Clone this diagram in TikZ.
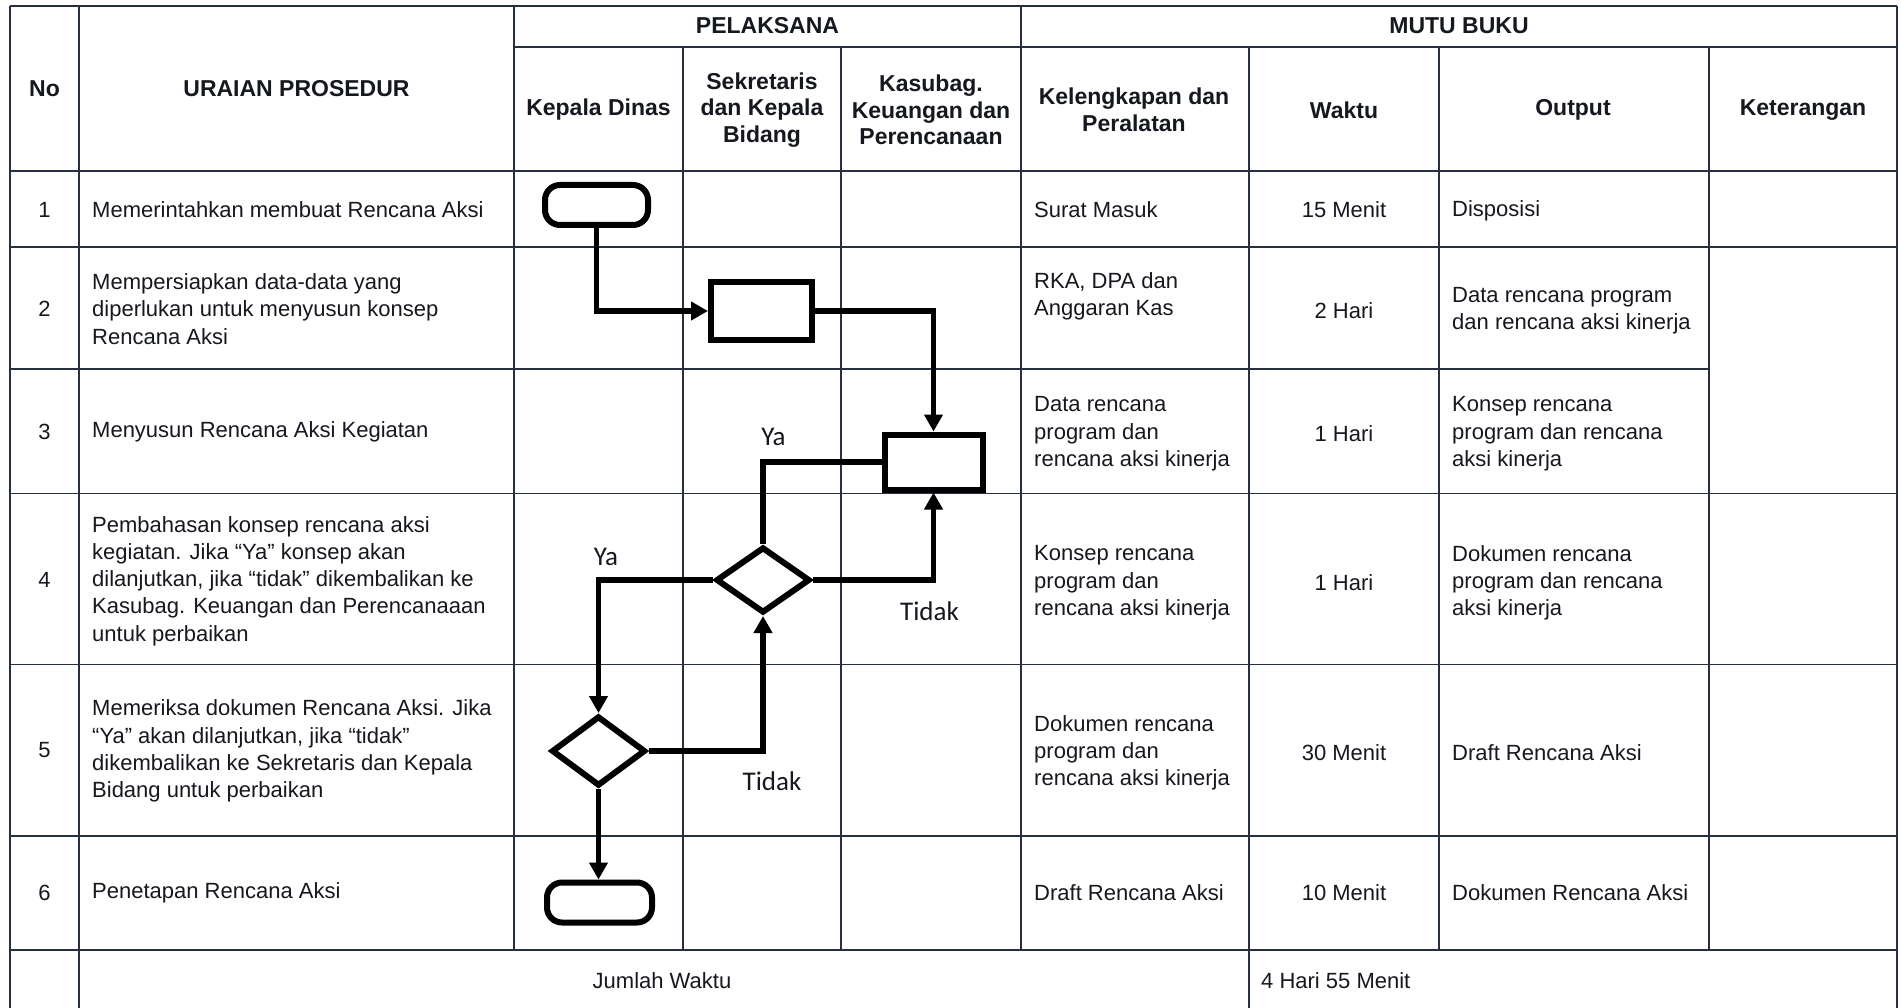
\documentclass[tikz,border=0pt]{standalone}
\usepackage{fontspec}
\setmainfont{Liberation Sans}
\newfontfamily\flowfont{Carlito}
\usetikzlibrary{shapes.geometric,arrows.meta}
\definecolor{gridc}{HTML}{26303F}
\definecolor{ink}{HTML}{16181F}
\begin{document}
\begin{tikzpicture}[x=1pt,y=-1pt,
  tl/.style={draw=gridc, line width=1.6pt},
  hdr/.style={align=center, inner sep=0pt, text=ink, font=\fontsize{23}{26.7}\selectfont\bfseries},
  tx/.style={anchor=west, align=left, inner sep=0pt, text=ink, font=\fontsize{22}{27.3}\selectfont},
  txc/.style={anchor=center, align=center, inner sep=0pt, text=ink, font=\fontsize{22}{27.3}\selectfont},
  fl/.style={draw=black, line width=6pt, fill=white, inner sep=0pt},
  term/.style={fl, rectangle, rounded corners=15pt, minimum width=103pt, minimum height=40pt},
  proc/.style={fl, rectangle},
  dec/.style={fl, diamond, aspect=1.4},
  conn/.style={draw=black, line width=5.5pt},
  arr/.style={conn, -{Triangle[length=17pt,width=18pt]}},
  lbl/.style={inner sep=0pt, text=ink, font=\flowfont\fontsize{27}{30}\selectfont}]
\useasboundingbox (0,0) rectangle (1901,1008);
\fill[white] (0,0) rectangle (1901,1008);

% ---------- table grid ----------
\draw[tl] (10,6) -- (1897,6);
\draw[tl] (514,47) -- (1897,47);
\foreach \yy in {171,247,493.5,664.5,836,950} {\draw[tl] (10,\yy) -- (1897,\yy);}
\draw[tl] (10,369) -- (1709,369);
\foreach \xx in {10,79,1897} {\draw[tl] (\xx,6) -- (\xx,1008);}
\draw[tl] (1249,47) -- (1249,1008);
\foreach \xx in {514,1021} {\draw[tl] (\xx,6) -- (\xx,950);}
\foreach \xx in {683,841,1439,1709} {\draw[tl] (\xx,47) -- (\xx,950);}

% ---------- header ----------
\node[hdr] (hno) at (44.5,89) {No};
\node[hdr] (hur) at (296.5,89) {URAIAN PROSEDUR};
\node[hdr] (hpel) at (767.5,26) {PELAKSANA};
\node[hdr] (hkd) at (598.5,110) {Kepala Dinas};
\node[hdr] (hsk) at (762,110) {Sekretaris\\dan Kepala\\Bidang};
\node[hdr] (hks) at (931,110) {Kasubag.\\Keuangan dan\\Perencanaan};
\node[hdr] (hmb) at (1459,26) {MUTU BUKU};
\node[hdr] (hkp) at (1134,110) {Kelengkapan dan\\Peralatan};
\node[hdr] (hwk) at (1344,110) {Waktu};
\node[hdr] (hop) at (1573,110) {Output};
\node[hdr] (hkt) at (1803,110) {Keterangan};

% ---------- No column ----------
\node[txc] (n1) at (44.5,210) {1};
\node[txc] (n2) at (44.5,309) {2};
\node[txc] (n3) at (44.5,432) {3};
\node[txc] (n4) at (44.5,580) {4};
\node[txc] (n5) at (44.5,750) {5};
\node[txc] (n6) at (44.5,893) {6};

% ---------- Uraian ----------
\node[tx] (u1) at (92,210) {Memerintahkan membuat Rencana Aksi};
\node[tx] (u2) at (92,309) {Mempersiapkan data-data yang\\diperlukan untuk menyusun konsep\\Rencana Aksi};
\node[tx] (u3) at (92,432) {Menyusun Rencana Aksi Kegiatan};
\node[tx] (u4) at (92,581) {Pembahasan konsep rencana aksi\\kegiatan. Jika “Ya” konsep akan\\dilanjutkan, jika “tidak” dikembalikan ke\\Kasubag. Keuangan dan Perencanaaan\\untuk perbaikan};
\node[tx] (u5) at (92,751) {Memeriksa dokumen Rencana Aksi. Jika\\“Ya” akan dilanjutkan, jika “tidak”\\dikembalikan ke Sekretaris dan Kepala\\Bidang untuk perbaikan};
\node[tx] (u6) at (92,893) {Penetapan Rencana Aksi};

% ---------- Kelengkapan ----------
\node[tx] (k1) at (1034,210) {Surat Masuk};
\node[tx] (k2) at (1034,296) {RKA, DPA dan\\Anggaran Kas};
\node[tx] (k3) at (1034,434) {Data rencana\\program dan\\rencana aksi kinerja};
\node[tx] (k4) at (1034,583) {Konsep rencana\\program dan\\rencana aksi kinerja};
\node[tx] (k5) at (1034,753) {Dokumen rencana\\program dan\\rencana aksi kinerja};
\node[tx] (k6) at (1034,893) {Draft Rencana Aksi};

% ---------- Waktu ----------
\node[txc] (w1) at (1344,210) {15 Menit};
\node[txc] (w2) at (1344,311) {2 Hari};
\node[txc] (w3) at (1344,434) {1 Hari};
\node[txc] (w4) at (1344,583) {1 Hari};
\node[txc] (w5) at (1344,753) {30 Menit};
\node[txc] (w6) at (1344,893) {10 Menit};

% ---------- Output ----------
\node[tx] (o1) at (1452,211) {Disposisi};
\node[tx] (o2) at (1452,311) {Data rencana program\\dan rencana aksi kinerja};
\node[tx] (o3) at (1452,434) {Konsep rencana\\program dan rencana\\aksi kinerja};
\node[tx] (o4) at (1452,583) {Dokumen rencana\\program dan rencana\\aksi kinerja};
\node[tx] (o5) at (1452,753) {Draft Rencana Aksi};
\node[tx] (o6) at (1452,893) {Dokumen Rencana Aksi};

% ---------- total row ----------
\node[txc] (jw) at (662,981) {Jumlah Waktu};
\node[tx] (tot) at (1261,981) {4 Hari 55 Menit};

% ---------- flowchart ----------
\node[term] (start) at (596.5,205) {};
\node[proc, minimum width=101pt, minimum height=58pt] (b2) at (761.5,311) {};
\node[proc, minimum width=98pt, minimum height=55pt] (b3) at (933.5,462) {};
\node[dec, minimum width=94pt, minimum height=66pt] (d1) at (763,580) {};
\node[dec, minimum width=94pt, minimum height=70pt] (d2) at (598.5,751) {};
\node[term, minimum width=105pt] (fin) at (599.5,902.5) {};

\draw[arr] (start.south) |- (b2.west);
\draw[arr] (b2.east) -| (b3.north);
\draw[conn] (b3.west) -| (d1.north);
\draw[arr] (d1.west) -| (d2.north);
\draw[arr] (d1.east) -| (b3.south);
\draw[arr] (d2.east) -| (d1.south);
\draw[arr] (d2.south) -- (d2.south |- fin.north);

\node[lbl] (ya1) at (773.5,437) {Ya};
\node[lbl] (ya2) at (606,557) {Ya};
\node[lbl] (td1) at (929.5,611) {Tidak};
\node[lbl] (td2) at (772,781) {Tidak};
\end{tikzpicture}
\end{document}
